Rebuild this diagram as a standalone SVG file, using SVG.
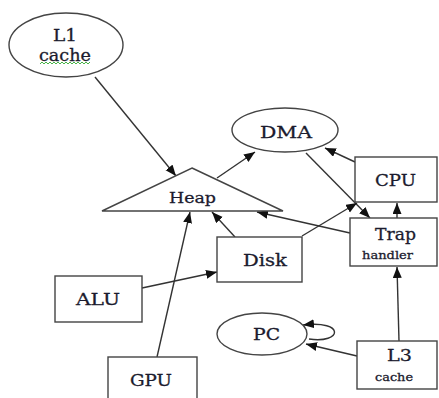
<svg xmlns="http://www.w3.org/2000/svg" width="439" height="398" viewBox="0 0 439 398">
<style>
.s{fill:#fff;stroke:#444;stroke-width:1.4}
.e{fill:none;stroke:#333;stroke-width:1.4}
text{font-family:'DejaVu Serif',serif;fill:#1b1b2e;stroke:#1b1b2e;stroke-width:0.3;text-anchor:middle}
.b{font-size:16.5px}
.m{font-size:15.5px}
.sm{font-size:11.5px}
</style>
<defs>
<marker id="a" markerWidth="12" markerHeight="10" refX="11" refY="4.5" orient="auto" markerUnits="userSpaceOnUse">
<path d="M0,0 L11,4.5 L0,9 z" fill="#111"/>
</marker>
</defs>
<rect width="439" height="398" fill="#fff"/>
<g id="edges">
<line class="e" x1="95" y1="77" x2="176" y2="176" marker-end="url(#a)"/>
<line class="e" x1="217" y1="178" x2="255" y2="152" marker-end="url(#a)"/>
<line class="e" x1="306" y1="153" x2="370" y2="218" marker-end="url(#a)"/>
<line class="e" x1="355" y1="162" x2="325" y2="148" marker-end="url(#a)"/>
<line class="e" x1="397" y1="218" x2="397" y2="203" marker-end="url(#a)"/>
<line class="e" x1="302" y1="236" x2="357" y2="203" marker-end="url(#a)"/>
<line class="e" x1="350" y1="233" x2="257" y2="212" marker-end="url(#a)"/>
<line class="e" x1="235" y1="237" x2="212" y2="212" marker-end="url(#a)"/>
<line class="e" x1="142" y1="288" x2="217" y2="272" marker-end="url(#a)"/>
<line class="e" x1="157" y1="357" x2="190" y2="212" marker-end="url(#a)"/>
<line class="e" x1="399" y1="341" x2="397" y2="267" marker-end="url(#a)"/>
<line class="e" x1="357" y1="356" x2="306" y2="344" marker-end="url(#a)"/>
<path class="e" d="M309,339 C342,344 346,320 303,325" marker-end="url(#a)"/>
</g>
<g id="L1cache">
<ellipse class="s" cx="66" cy="45" rx="57" ry="32"/>
<text class="b" x="65" y="41" textLength="24" lengthAdjust="spacingAndGlyphs">L1</text>
<text class="b" x="65" y="61" textLength="52" lengthAdjust="spacingAndGlyphs">cache</text>
<path d="M40,64 l2,-2 l2,2 l2,-2 l2,2 l2,-2 l2,2 l2,-2 l2,2 l2,-2 l2,2 l2,-2 l2,2 l2,-2 l2,2 l2,-2 l2,2 l2,-2 l2,2 l2,-2 l2,2 l2,-2 l2,2 l2,-2 l2,2 l2,-2" fill="none" stroke="#3a3" stroke-width="0.9"/>
</g>
<g id="Heap">
<polygon class="s" points="192,168 283,211 102,211"/>
<text class="m" x="192.5" y="203" textLength="47" lengthAdjust="spacingAndGlyphs">Heap</text>
</g>
<g id="DMA">
<ellipse class="s" cx="285" cy="130" rx="53" ry="22"/>
<text class="b" x="286" y="138" textLength="52" lengthAdjust="spacingAndGlyphs">DMA</text>
</g>
<g id="CPU">
<rect class="s" x="355" y="157" width="82" height="45"/>
<text class="b" x="395.5" y="186" textLength="41" lengthAdjust="spacingAndGlyphs">CPU</text>
</g>
<g id="Trap">
<rect class="s" x="350" y="218" width="87" height="48"/>
<text class="b" x="395.5" y="240" textLength="41" lengthAdjust="spacingAndGlyphs">Trap</text>
<text class="sm" x="387.5" y="259" textLength="51" lengthAdjust="spacingAndGlyphs">handler</text>
</g>
<g id="Disk">
<rect class="s" x="217" y="237" width="85" height="45"/>
<text class="b" x="265" y="266" textLength="44" lengthAdjust="spacingAndGlyphs">Disk</text>
</g>
<g id="ALU">
<rect class="s" x="55" y="276" width="87" height="46"/>
<text class="b" x="98" y="305" textLength="44" lengthAdjust="spacingAndGlyphs">ALU</text>
</g>
<g id="GPU">
<rect class="s" x="108" y="357" width="89" height="50"/>
<text class="b" x="151" y="386" textLength="42" lengthAdjust="spacingAndGlyphs">GPU</text>
</g>
<g id="PC">
<ellipse class="s" cx="262" cy="334" rx="45" ry="21"/>
<text class="b" x="266.5" y="340" textLength="27" lengthAdjust="spacingAndGlyphs">PC</text>
</g>
<g id="L3cache">
<rect class="s" x="357" y="341" width="80" height="48"/>
<text class="b" x="399.5" y="361" textLength="25" lengthAdjust="spacingAndGlyphs">L3</text>
<text class="sm" x="394" y="381" textLength="38" lengthAdjust="spacingAndGlyphs">cache</text>
</g>
</svg>
